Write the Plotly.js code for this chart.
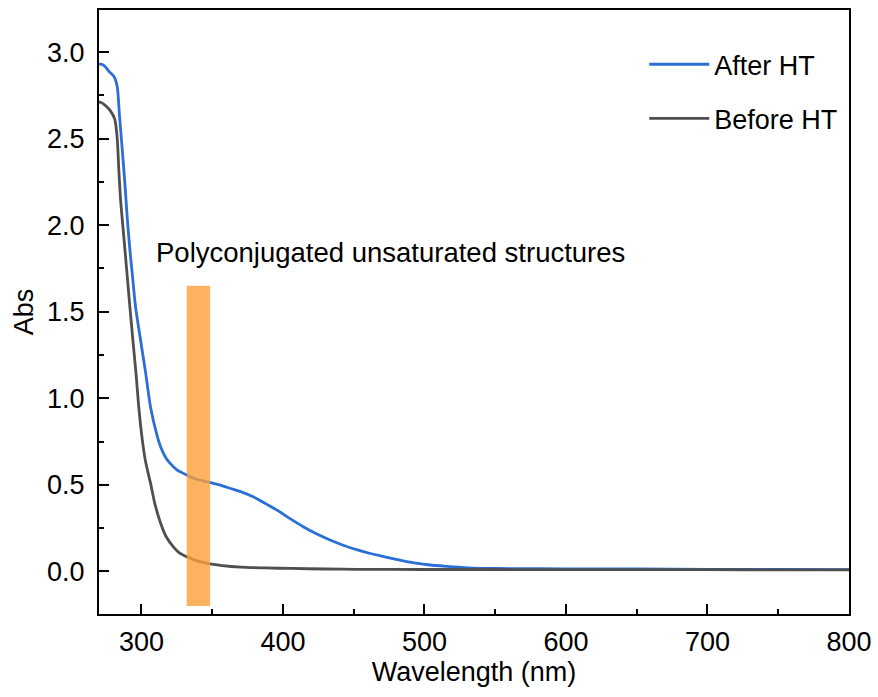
<!DOCTYPE html>
<html>
<head>
<meta charset="utf-8">
<script src="https://cdn.plot.ly/plotly-3.0.1.min.js"></script>
<style>html,body{margin:0;padding:0;background:#fff;}#chart{width:878px;height:697px;}</style>
</head>
<body>
<div id="chart"></div>
<script>
// After HT
const afterWl = [270, 271.1, 273, 275, 276.9, 280.5, 282.9, 284.5, 286.4, 288.2, 289.9, 291.8, 293.5, 295.8, 299.3, 302.9, 306.4, 311.2, 313.5, 317, 320, 325.3, 332.4, 338, 346.5, 355, 363, 371, 379.3, 388, 396, 405, 414.6, 424, 433.7, 443, 452.6, 461, 469, 481, 492.6, 504, 516, 528, 540, 560, 600, 650, 700, 750, 800];
const afterAbs = [2.93, 2.93, 2.925, 2.91, 2.89, 2.86, 2.80, 2.63, 2.44, 2.25, 2.05, 1.86, 1.72, 1.53, 1.34, 1.15, 0.95, 0.78, 0.72, 0.66, 0.627, 0.585, 0.556, 0.535, 0.517, 0.50, 0.479, 0.458, 0.43, 0.39, 0.353, 0.305, 0.257, 0.216, 0.18, 0.15, 0.124, 0.105, 0.090, 0.068, 0.049, 0.037, 0.029, 0.022, 0.018, 0.016, 0.015, 0.014, 0.012, 0.011, 0.01];
// Before HT
const beforeWl = [270, 271.1, 274, 278.1, 281.2, 282.9, 284, 285.2, 286.8, 288.2, 289.9, 291.8, 293.9, 296.3, 298.1, 300.6, 303, 306.4, 309.5, 313.5, 317.5, 322.7, 327, 332.4, 339, 346.5, 357, 370.1, 388, 405.5, 430, 452.6, 500, 550, 600, 650, 700, 750, 800];
const beforeAbs = [2.71, 2.71, 2.695, 2.66, 2.61, 2.50, 2.32, 2.15, 2.00, 1.87, 1.71, 1.53, 1.34, 1.13, 0.95, 0.76, 0.63, 0.51, 0.39, 0.28, 0.20, 0.14, 0.105, 0.083, 0.062, 0.046, 0.034, 0.025, 0.02, 0.017, 0.014, 0.012, 0.011, 0.011, 0.01, 0.01, 0.01, 0.009, 0.009];
// Highlighted band
const bandWl = [332, 348.5];
const bandAbs = [-0.2, 1.65];
const seriesNames = ["After HT", "Before HT"];
const noteText = "Polyconjugated unsaturated structures";

const FONT = "Liberation Sans, Arial, sans-serif";
const FS = 27;
const txt = {family: FONT, size: FS, color: "#000"};
const data = [
  {x: afterWl, y: afterAbs, type: "scatter", mode: "lines", name: seriesNames[0], legendgroup: "a",
   line: {color: "#2a6fd8", width: 2.8, shape: "spline", smoothing: 0.6}},
  {x: beforeWl, y: beforeAbs, type: "scatter", mode: "lines", name: seriesNames[1], legendgroup: "b",
   line: {color: "#4f4f4f", width: 2.8, shape: "spline", smoothing: 0.6}}
];
const layout = {
  width: 878, height: 697,
  margin: {l: 99, r: 29, t: 10, b: 83},
  paper_bgcolor: "#fff", plot_bgcolor: "#fff",
  font: txt,
  showlegend: true,
  legend: {x: 0.727, y: 0.95, xanchor: "left", yanchor: "top", bgcolor: "rgba(0,0,0,0)",
           font: txt, traceorder: "grouped", tracegroupgap: 16, itemwidth: 60},
  xaxis: {range: [270, 800], tick0: 300, dtick: 100, ticks: "inside", ticklen: 10, tickwidth: 2, tickcolor: "#000",
          showline: true, linecolor: "#000", linewidth: 2, mirror: true, showgrid: false, zeroline: false,
          minor: {ticks: "inside", ticklen: 5, tickwidth: 2, tickcolor: "#000", dtick: 50, tick0: 300, showgrid: false},
          tickfont: txt, ticklabelstandoff: 3,
          title: {text: "Wavelength (nm)", font: txt, standoff: 5}},
  yaxis: {range: [-0.246, 3.243], tick0: 0, dtick: 0.5, tickformat: ".1f", ticks: "inside", ticklen: 10, tickwidth: 2, tickcolor: "#000",
          showline: true, linecolor: "#000", linewidth: 2, mirror: true, showgrid: false, zeroline: false,
          minor: {ticks: "inside", ticklen: 5, tickwidth: 2, tickcolor: "#000", dtick: 0.25, tick0: 0, showgrid: false},
          tickfont: txt, ticklabelstandoff: 7,
          title: {text: "Abs", font: txt, standoff: 6}},
  shapes: [{type: "rect", xref: "x", yref: "y", x0: bandWl[0], x1: bandWl[1], y0: bandAbs[0], y1: bandAbs[1],
            fillcolor: "rgb(252,159,55)", opacity: 0.8, line: {width: 0}, layer: "above"}],
  annotations: [{text: noteText, xref: "x", yref: "y", x: 309, y: 1.84, xanchor: "left", yanchor: "middle",
                 showarrow: false, font: {family: FONT, size: 27.5, color: "#000"}}]
};
Plotly.newPlot("chart", data, layout, {displayModeBar: false, staticPlot: true});
</script>
</body>
</html>
